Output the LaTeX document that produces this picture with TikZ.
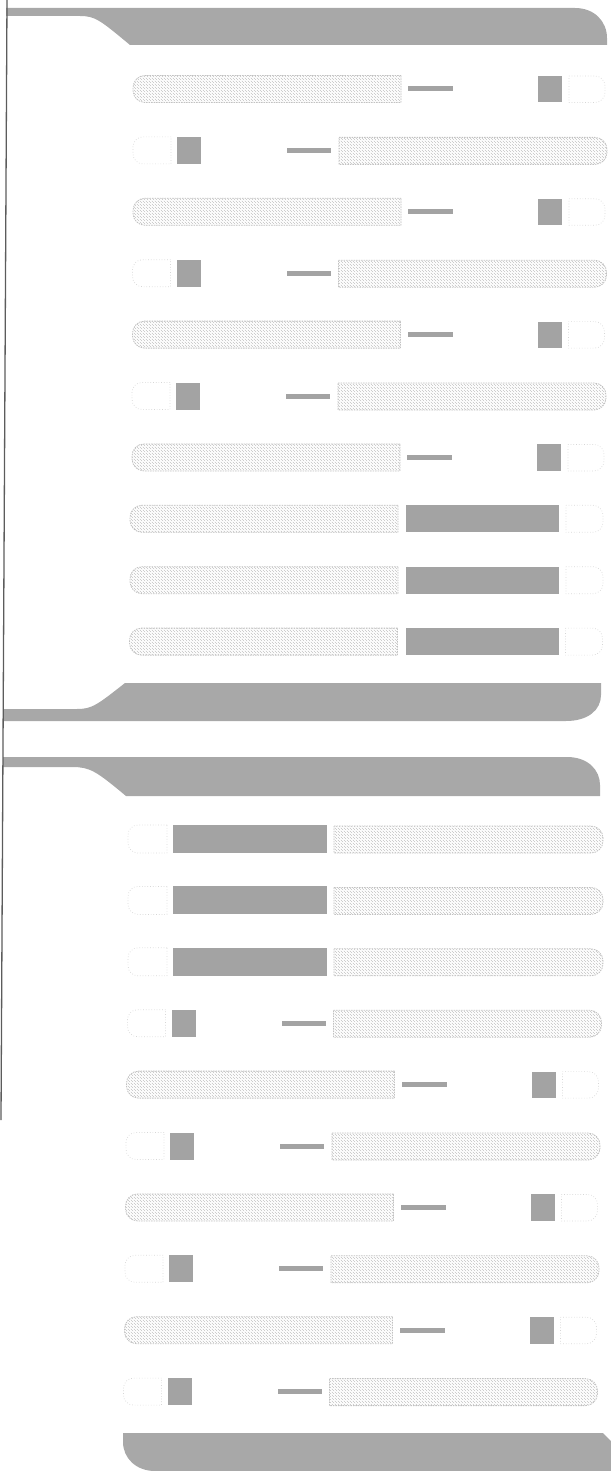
\documentclass[tikz,border=0pt]{standalone}
\usetikzlibrary{patterns}
\begin{document}
\begin{tikzpicture}[x=1pt, y=-1pt, line join=round]
  \definecolor{Ink}{HTML}{5C5C5C}
  \definecolor{Banner}{HTML}{A8A8A8}
  \definecolor{Chip}{HTML}{A3A3A3}
  \definecolor{Hatch}{HTML}{C2C2C2}
  \definecolor{Faint}{HTML}{D6D6D6}

  \tikzset{
    banner/.style={fill=Banner, draw=none},
    hatchbar/.style={pattern=north west lines, pattern color=Hatch, draw=Hatch, dash pattern=on 1.5pt off 1pt, line width=0.8pt},
    chip/.style={fill=Chip, draw=none},
    stub/.style={fill=Chip, draw=none},
    slot/.style={draw=Faint, dotted, line width=0.7pt}
  }

  \useasboundingbox (0,0) rectangle (610,1471);

  % Banners
  \path[banner] (6,8) -- (575,8) .. controls (595,8) and (607,22) .. (607,38) -- (607,45)
    -- (130,45) .. controls (100,20) and (95,16) .. (80,16) -- (6,16) -- cycle;
  \path[banner] (3,709) -- (77,709) .. controls (92,709) and (97,705) .. (125,683) -- (601,683)
    -- (601,695) .. controls (601,710) and (588,721) .. (566,721) -- (3,721) -- cycle;
  \path[banner] (3,757) -- (567,757) .. controls (588,757) and (600,770) .. (600,785) -- (600,796)
    -- (126,796) .. controls (96,771) and (90,767) .. (72,767) -- (3,767) -- cycle;
  \path[banner] (123,1433) -- (603,1433) -- (611,1441) -- (611,1471) -- (155,1471)
    .. controls (136,1471) and (123,1458) .. (123,1442) -- cycle;

  % Rows: long bar, stub, chip, slot
  \foreach \y/\dx in {89/0, 211.8/0, 334.6/-0.5, 457.4/-1, 1084.6/-6.5, 1207.4/-7.5, 1330.2/-8.5} {
    \draw[hatchbar] ({401+\dx},{\y-13.5}) [rounded corners=12pt] -- ({133+\dx},{\y-13.5})
      -- ({133+\dx},{\y+13.5}) [sharp corners] -- ({401+\dx},{\y+13.5}) -- cycle;
    \fill[stub] ({408+\dx},{\y-2.5}) rectangle ({453+\dx},{\y+2.5});
    \fill[chip] ({538+\dx},{\y-13}) rectangle ({562+\dx},{\y+13.5});
    \draw[slot] ({569+\dx},{\y-13}) [rounded corners=10pt] -- ({605+\dx},{\y-13})
      -- ({605+\dx},{\y+13.5}) [sharp corners] -- ({569+\dx},{\y+13.5}) -- cycle;
  }

  % Rows: slot, chip, stub, long bar
  \foreach \y/\dx in {150.4/0, 273.2/-0.5, 396/-1, 1023.2/-5.5, 1146/-7, 1268.8/-8, 1391.6/-9.5} {
    \draw[slot] ({171+\dx},{\y-13.5}) [rounded corners=10pt] -- ({133+\dx},{\y-13.5})
      -- ({133+\dx},{\y+13.5}) [sharp corners] -- ({171+\dx},{\y+13.5}) -- cycle;
    \fill[chip] ({177+\dx},{\y-13.5}) rectangle ({201+\dx},{\y+13.5});
    \fill[stub] ({287+\dx},{\y-2.5}) rectangle ({331+\dx},{\y+2.5});
    \draw[hatchbar] ({339+\dx},{\y-13}) [rounded corners=12pt] -- ({607+\dx},{\y-13})
      -- ({607+\dx},{\y+14}) [sharp corners] -- ({339+\dx},{\y+14}) -- cycle;
  }

  % Rows: long bar, wide block, slot
  \foreach \y/\dx in {518.8/-2, 580.2/-2, 641.6/-2.5} {
    \draw[hatchbar] ({400+\dx},{\y-13.5}) [rounded corners=12pt] -- ({132+\dx},{\y-13.5})
      -- ({132+\dx},{\y+13.5}) [sharp corners] -- ({400+\dx},{\y+13.5}) -- cycle;
    \fill[chip] ({408+\dx},{\y-13.5}) rectangle ({561+\dx},{\y+13.5});
    \draw[slot] ({568+\dx},{\y-13.5}) [rounded corners=10pt] -- ({605+\dx},{\y-13.5})
      -- ({605+\dx},{\y+13.5}) [sharp corners] -- ({568+\dx},{\y+13.5}) -- cycle;
  }

  % Rows: slot, wide block, long bar
  \foreach \y/\dx in {839/-5, 900.4/-5, 961.8/-5} {
    \draw[slot] ({172+\dx},{\y-14}) [rounded corners=10pt] -- ({133+\dx},{\y-14})
      -- ({133+\dx},{\y+14}) [sharp corners] -- ({172+\dx},{\y+14}) -- cycle;
    \fill[chip] ({178+\dx},{\y-14}) rectangle ({332+\dx},{\y+14});
    \draw[hatchbar] ({339+\dx},{\y-13}) [rounded corners=12pt] -- ({608+\dx},{\y-13})
      -- ({608+\dx},{\y+14}) [sharp corners] -- ({339+\dx},{\y+14}) -- cycle;
  }

  % Left rail
  \draw[Ink, line width=1.3pt] (7,0) -- (1,1120);
\end{tikzpicture}
\end{document}
